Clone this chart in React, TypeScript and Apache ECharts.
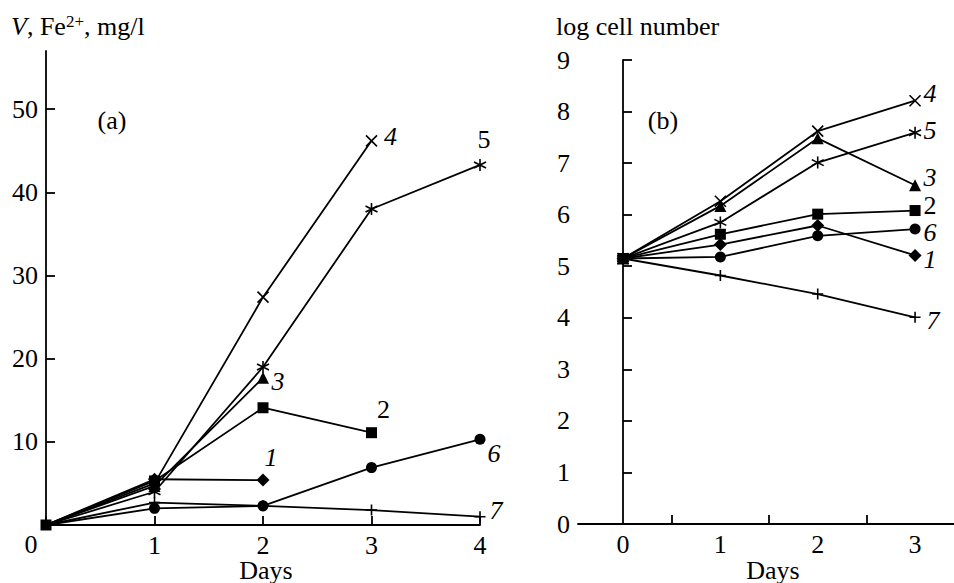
import React, { useEffect, useRef } from "react";
import * as echarts from "echarts";

// Panel (a): V, Fe2+, mg/l vs days (index = day)
const DAYS_A = [0, 1, 2, 3, 4];
const A1 = [0, 5.5, 5.4];
const A2 = [0, 5.3, 14.1, 11.1];
const A3 = [0, 4.7, 17.7];
const A4 = [0, 5.0, 27.4, 46.2];
const A5 = [0, 4.0, 19.0, 38.0, 43.3];
const A6 = [0, 2.0, 2.3, 6.9, 10.3];
const A7 = [0, 2.7, 2.3, 1.8, 1.0];

// Panel (b): log cell number vs days
const DAYS_B = [0, 1, 2, 3];
const B1 = [5.15, 5.42, 5.79, 5.21];
const B2 = [5.15, 5.62, 6.01, 6.08];
const B3 = [5.15, 6.17, 7.48, 6.57];
const B4 = [5.15, 6.26, 7.62, 8.21];
const B5 = [5.15, 5.85, 7.01, 7.59];
const B6 = [5.15, 5.18, 5.59, 5.72];
const B7 = [5.15, 4.82, 4.46, 4.01];

const SERIES_NAMES = ["1", "2", "3", "4", "5", "6", "7"];
const Y_TICKS_A = [0, 10, 20, 30, 40, 50];
const Y_LABELS_A = [10, 20, 30, 40, 50];
const X_LABELS_A = [1, 2, 3, 4];
const X_LABELS_B = [0, 1, 2, 3];
const X_TICKS_B = [0.5, 1.5, 2.5];
const X_NAME = "Days";

const FONT = "Liberation Serif";
const FS = 26;
const INK = "#000";

const CROSS = "path://M0,0L10,10M10,0L0,10";
const STAR = "path://M5,0L5,10M0.67,2.5L9.33,7.5M0.67,7.5L9.33,2.5";
const PLUS = "path://M5,0L5,10M0,5L10,5";

const SYMBOLS: any[] = [
  { symbol: "diamond", size: 13, stroke: false },
  { symbol: "rect", size: 11, stroke: false },
  { symbol: "triangle", size: 12, stroke: false },
  { symbol: CROSS, size: 11, stroke: true },
  { symbol: STAR, size: 12, stroke: true },
  { symbol: "circle", size: 11, stroke: false },
  { symbol: PLUS, size: 11, stroke: true },
];

const LABEL_OFFSET_A: [number, number][] = [
  [8, -23], [12, -23], [15, 4], [19, -4], [4, -25], [14, 14], [16, -6],
];
const LABEL_ITALIC_A = [true, false, true, true, false, true, true];
const LABEL_OFFSET_B: [number, number][] = [
  [15, 4], [15, -5], [15, -8], [15, -7], [15, -2], [15, 3], [18, 3],
];
const LABEL_ITALIC_B = [true, false, true, true, true, true, true];

function makeSeries(
  panel: number,
  idx: number,
  days: number[],
  values: number[],
  offset: [number, number],
  italic: boolean,
  showFirst: boolean
) {
  const s = SYMBOLS[idx];
  const data = values.map((v, i) => {
    const item: any = { value: [days[i], v] };
    if (i === 0 && !showFirst) item.symbol = "none";
    if (i === values.length - 1) {
      item.label = {
        show: true,
        formatter: SERIES_NAMES[idx],
        position: "inside",
        offset,
        color: INK,
        fontFamily: FONT,
        fontSize: FS,
        fontStyle: italic ? "italic" : "normal",
      };
    }
    return item;
  });
  return {
    type: "line",
    name: (panel === 0 ? "a" : "b") + SERIES_NAMES[idx],
    xAxisIndex: panel,
    yAxisIndex: panel,
    data,
    symbol: s.symbol,
    symbolSize: s.size,
    showAllSymbol: true,
    lineStyle: { color: INK, width: 1.8 },
    itemStyle: s.stroke
      ? { color: "none", borderColor: INK, borderWidth: 1.6 }
      : { color: INK, borderColor: INK, borderWidth: 0 },
    emphasis: { disabled: true },
    z: 3,
  };
}

const axisLineStyle = { color: INK, width: 1.8 };
const labelStyle = { color: INK, fontFamily: FONT, fontSize: FS };

export default function App() {
  const ref = useRef<HTMLDivElement>(null);
  useEffect(() => {
    if (!ref.current) return;
    const chart = echarts.init(ref.current, undefined, { renderer: "svg" });
    const A = [A1, A2, A3, A4, A5, A6, A7];
    const B = [B1, B2, B3, B4, B5, B6, B7];
    const series: any[] = [];
    A.forEach((vals, i) =>
      series.push(makeSeries(0, i, DAYS_A, vals, LABEL_OFFSET_A[i], LABEL_ITALIC_A[i], i === 1))
    );
    B.forEach((vals, i) =>
      series.push(makeSeries(1, i, DAYS_B, vals, LABEL_OFFSET_B[i], LABEL_ITALIC_B[i], true))
    );
    const txt = (text: string, x: number, y: number) => ({
      type: "text",
      x,
      y,
      style: { text, fill: INK, font: `${FS}px '${FONT}'`, align: "center", verticalAlign: "middle" },
    });
    chart.setOption({
      animation: false,
      backgroundColor: "#fff",
      textStyle: { fontFamily: FONT },
      grid: [
        { left: 46, top: 51, width: 434, bottom: 58, containLabel: false, outerBoundsMode: "none" },
        { left: 578, top: 60, right: 0, bottom: 59, containLabel: false, outerBoundsMode: "none" },
      ],
      xAxis: [
        {
          type: "value",
          gridIndex: 0,
          min: 0,
          max: 4,
          interval: 1,
          axisLine: { lineStyle: axisLineStyle },
          axisTick: { inside: true, length: 9, lineStyle: axisLineStyle },
          axisLabel: { ...labelStyle, margin: 7, customValues: X_LABELS_A },
          splitLine: { show: false },
        },
        {
          type: "value",
          gridIndex: 1,
          min: -0.4625,
          max: 3.4,
          axisLine: { lineStyle: axisLineStyle },
          axisTick: { inside: true, length: 9, lineStyle: axisLineStyle, customValues: X_TICKS_B },
          axisLabel: { ...labelStyle, margin: 7, customValues: X_LABELS_B },
          splitLine: { show: false },
        },
      ],
      yAxis: [
        {
          type: "value",
          gridIndex: 0,
          min: 0,
          max: 57,
          axisLine: { show: true, lineStyle: axisLineStyle },
          axisTick: { show: true, inside: true, length: 9, lineStyle: axisLineStyle, customValues: Y_TICKS_A },
          axisLabel: { ...labelStyle, margin: 8, customValues: Y_LABELS_A },
          splitLine: { show: false },
        },
        {
          type: "value",
          gridIndex: 1,
          min: 0,
          max: 9,
          interval: 1,
          axisLine: { show: true, lineStyle: axisLineStyle },
          axisTick: { show: true, inside: true, length: 9, lineStyle: axisLineStyle },
          axisLabel: { ...labelStyle, margin: 8 },
          splitLine: { show: false },
        },
      ],
      graphic: [
        {
          type: "text",
          left: 11,
          top: 13,
          style: {
            text: "{i|V}, Fe{sup|2+}, mg/l",
            fill: INK,
            font: `${FS}px '${FONT}'`,
            rich: {
              i: { fontStyle: "italic", fontSize: FS, fontFamily: FONT, fill: INK },
              sup: { fontSize: 17, fontFamily: FONT, fill: INK, padding: [0, 0, 10, 0] },
            },
          },
        },
        {
          type: "text",
          left: 556,
          top: 13,
          style: { text: "log cell number", fill: INK, font: `${FS}px '${FONT}'` },
        },
        txt("(a)", 112, 120),
        txt("(b)", 663, 120),
        txt("0", 31, 544),
        txt(X_NAME, 266, 570),
        txt(X_NAME, 773, 570),
      ],
      series,
    });
    return () => chart.dispose();
  }, []);
  return <div ref={ref} style={{ width: 954, height: 583, position: "absolute", left: 0, top: 0 }} />;
}
